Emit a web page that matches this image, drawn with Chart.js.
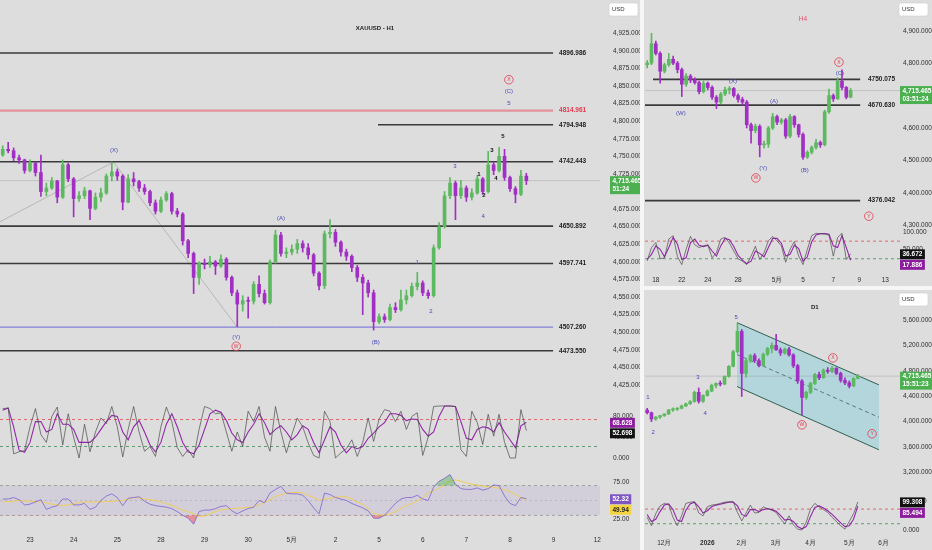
<!DOCTYPE html>
<html lang="en">
<head>
<meta charset="UTF-8">
<title>XAUUSD H1 / H4 / D1</title>
<script src="https://cdn.jsdelivr.net/npm/chart.js@4"></script>
<style>
  body { margin: 0; width: 932px; height: 550px; overflow: hidden; position: relative; background: #dddddd; }
  canvas { position: absolute; }
  .sep { position: absolute; background: #f6f6f6; }
</style>
</head>
<body>
<canvas id="h1Price" width="640" height="392" style="left:0;top:0"></canvas>
<canvas id="h1Stoch" width="640" height="80" style="left:0;top:392px"></canvas>
<canvas id="h1Rsi" width="640" height="78" style="left:0;top:472px"></canvas>
<canvas id="h4Price" width="287" height="228" style="left:645px;top:0"></canvas>
<canvas id="h4Stoch" width="287" height="57" style="left:645px;top:228px"></canvas>
<canvas id="d1Price" width="287" height="198" style="left:645px;top:290px"></canvas>
<canvas id="d1Stoch" width="287" height="62" style="left:645px;top:488px"></canvas>
<div class="sep" style="left:640px;top:0;width:4px;height:550px"></div>
<div class="sep" style="left:644px;top:286px;width:288px;height:4px"></div>

<script>
// ---------- H1 data (one slot = 3 hours) ----------
const h1Open = [4752,4760,4758,4748,4745,4730,4740,4727,4700,4705, 4715,4692,4738,4718,4690,4694,4701,4676,4692,4698,
  4722,4728,4722,4685,4718,4714,4705,4700,4684,4672, 4688,4697,4672,4668,4630,4612,4578,4598,4596,4600,
  4594,4604,4578,4556,4540,4545,4544,4568,4555,4542, 4600,4638,4612,4614,4618,4626,4620,4610,4584,4566,
  4640,4642,4628,4614,4608,4592,4578,4570,4556,4515, 4522,4518,4535,4532,4546,4552,4565,4570,4556,4552,
  4620,4650,4694,4712,4694,4705,4692,4698,4718,4700, 4738,4730,4750,4720,4704,4696,4722];
const h1High = [4765,4770,4762,4752,4746,4745,4742,4752,4712,4720, 4716,4745,4740,4720,4700,4706,4702,4698,4705,4725,
  4742,4732,4724,4724,4727,4716,4710,4702,4688,4692, 4700,4699,4676,4670,4632,4614,4600,4604,4608,4602,
  4610,4606,4580,4560,4552,4550,4572,4580,4560,4603, 4645,4642,4620,4624,4632,4630,4626,4612,4586,4644,
  4660,4646,4630,4618,4610,4595,4582,4574,4560,4526, 4526,4540,4542,4560,4560,4570,4585,4573,4560,4624,
  4656,4700,4720,4715,4716,4708,4704,4723,4720,4757, 4742,4763,4760,4722,4707,4730,4726];
const h1Low = [4750,4755,4744,4740,4726,4728,4722,4693,4694,4703, 4684,4690,4714,4664,4686,4690,4660,4674,4686,4696,
  4715,4716,4674,4684,4708,4700,4696,4680,4668,4670, 4686,4668,4664,4624,4606,4555,4568,4590,4592,4582,
  4592,4574,4552,4508,4530,4520,4540,4550,4540,4540, 4598,4608,4606,4610,4612,4614,4604,4580,4560,4562,
  4634,4622,4608,4602,4586,4572,4525,4550,4503,4512, 4514,4516,4528,4530,4540,4550,4560,4552,4548,4550,
  4618,4648,4690,4660,4690,4686,4688,4696,4696,4698, 4724,4728,4716,4700,4684,4694,4710];
const h1Close = [4760,4758,4748,4745,4730,4740,4727,4700,4705,4715, 4692,4738,4718,4690,4694,4701,4676,4692,4698,4722,
  4728,4722,4685,4718,4714,4705,4700,4684,4672,4688, 4697,4672,4668,4630,4612,4578,4598,4596,4600,4594,
  4604,4578,4556,4540,4545,4544,4568,4555,4542,4600, 4638,4612,4614,4618,4626,4620,4610,4584,4566,4640,
  4642,4628,4614,4608,4592,4578,4570,4556,4515,4522, 4518,4535,4532,4546,4552,4565,4570,4556,4552,4620,
  4650,4694,4712,4694,4705,4692,4698,4718,4700,4738, 4730,4750,4720,4704,4696,4722,4715.465];
const h1StochK = [95,96,8,12,14,60,95,45,30,80, 98,25,85,40,0,65,12,50,77,66, 99,60,2,55,99,50,13,22,3,60,
  98,70,20,3,16,0,55,99,95,85, 87,50,13,50,22,90,70,99,40,13, 99,50,10,45,77,60,29,5,0,90,
  70,0,10,18,35,3,30,77,32,75, 93,90,70,90,55,80,87,5,40,99, 100,100,100,99,16,3,90,68,26,84,
  42,84,30,0,0,93,52.698];
const h1StochD = [92,96,60,15,11,30,70,70,50,55, 85,65,65,55,30,30,30,40,55,70, 82,80,50,35,60,72,50,25,12,30,
  65,85,60,30,12,8,25,55,85,92, 88,72,48,35,30,50,65,85,68,45, 55,62,50,35,45,62,55,30,10,35,
  60,50,25,10,22,18,22,38,48,60, 68,85,85,82,72,75,74,55,42,50, 80,100,100,99,70,38,35,55,60,58,
  50,68,50,35,20,62,68.628];
const h1Rsi = [52,52,54,51,44,45,48,51,38,41, 43,52,52,44,44,46,38,41,50,56, 59,54,43,53,54,55,49,45,43,42,
  41,39,35,30,26,18,35,37,37,39, 42,43,36,32,36,39,41,50,47,60, 65,69,60,59,59,57,50,40,32,60,
  58,54,52,50,46,43,40,36,26,26, 30,38,46,52,54,54,57,52,50,68, 76,80,85,72,66,65,65,67,64,66,
  71,70,56,46,43,54,52.32];
const h1RsiMa = [48,48.5,49,50,49.5,49,48.5,48,46.5,45, 44,43,44,45.5,47.5,48,48,48,48,48.5, 49,49.5,50,52,54,53.5,52,51,50,48,
  46,43.5,40,37,35,32,28.5,29,32,35, 37.5,38,39,39.5,40,40.5,41,44,47.5,51, 55,58,59.5,60.5,61,60,57,54,50.5,51.5,
  53,54.5,55,55,52,48,44.5,39,33,30, 30.5,32,35,39,43,46,49.5,54,60,63, 67,71,76,78,76,74,72,71,69.5,68.5,
  68,66.5,64.5,62,58,54,49.94];
const h1Levels = [4896.986, 4814.961, 4794.948, 4742.443, 4650.892, 4597.741, 4507.260, 4473.550];
const h1LevelFrom = [-0.5, -0.5, 68.8, -0.5, -0.5, -0.5, -0.5, -0.5];
const h1LevelTo = 100.9;
const h1Zigzag = [[-0.5, 4657], [20.3, 4742], [43, 4507]];
const h1Waves = [
  [68.25, 4932, 'XAUUSD - H1', 'title'],
  [20.4, 4759, '(X)', 'wave'], [51.0, 4662, '(A)', 'wave'], [42.8, 4493, '(Y)', 'wave'], [42.8, 4480, 'W', 'circle'],
  [68.4, 4486, '(B)', 'wave'], [76.0, 4599, '1', 'wave'], [78.5, 4529, '2', 'wave'], [82.9, 4736, '3', 'wave'],
  [88.1, 4665, '4', 'wave'], [92.8, 4826, '5', 'wave'], [92.8, 4843, '(C)', 'wave'], [92.8, 4859, 'X', 'circle'],
  [87.3, 4725, '1', 'minor'], [88.2, 4694, '2', 'minor'], [89.7, 4758, '3', 'minor'], [90.4, 4719, '4', 'minor'], [91.7, 4779, '5', 'minor']
];
const h1TickSlots = [5, 13, 21, 29, 37, 45, 53, 61, 69, 77, 85, 93, 101, 109];
const h1TickLabels = ['23', '24', '25', '28', '29', '30', '5月', '2', '5', '6', '7', '8', '9', '12'];
const h1PriceTicks = [4425,4450,4475,4500,4525,4550,4575,4600,4625,4650,4675,4700,4725,4750,4775,4800,4825,4850,4875,4900,4925];

// ---------- H4 data ----------
const h4Open = [4795,4800,4860,4830,4775,4795,4812,4800,4780,4735, 4760,4748,4740,4712,4738,4725,4695,4680,4705,4718,
  4722,4700,4688,4680,4610,4592,4605,4548,4550,4600, 4635,4618,4625,4575,4635,4610,4580,4510,4525,4540,
  4555,4548,4650,4700,4690,4745,4725,4695];
const h4High = [4808,4892,4868,4835,4800,4830,4822,4805,4785,4768, 4765,4755,4745,4745,4742,4730,4700,4710,4726,4728,
  4725,4705,4695,4685,4615,4612,4610,4560,4605,4645, 4640,4630,4630,4642,4638,4612,4585,4530,4545,4565,
  4560,4655,4720,4705,4755,4779,4728,4722];
const h4Low = [4785,4795,4825,4738,4770,4790,4795,4770,4697,4728, 4740,4735,4705,4708,4718,4688,4660,4675,4700,4705,
  4695,4680,4670,4600,4553,4585,4511,4538,4540,4595, 4610,4612,4568,4570,4602,4572,4503,4506,4520,4535,
  4540,4545,4645,4682,4688,4718,4690,4693];
const h4Close = [4800,4860,4830,4775,4795,4812,4800,4780,4735,4760, 4748,4740,4712,4738,4725,4695,4680,4705,4718,4722,
  4700,4688,4680,4610,4592,4605,4548,4550,4600,4635, 4618,4625,4575,4635,4610,4580,4510,4525,4540,4555,
  4548,4650,4700,4690,4745,4725,4695,4715.465];
const h4StochK = [16,55,70,22,25,80,90,28,5,50, 88,63,55,60,63,25,40,80,85,68, 45,22,15,5,30,59,20,40,75,88,
  75,60,12,50,73,30,5,50,90,97, 96,95,92,30,85,97,20,36.672];
const h4StochD = [20,35,60,50,28,55,85,65,20,25, 70,80,62,58,62,45,30,60,82,78, 58,32,18,8,15,45,38,28,55,82,
  82,68,30,35,62,52,15,28,72,92, 96,96,94,60,55,90,55,17.886];
const h4Levels = [4750.075, 4670.630, 4376.042];
const h4LevelFrom = [1.35, -0.5, -0.5];
const h4LevelTo = 49.2;
const h4Waves = [
  [36, 4936, 'H4', 'tf'],
  [19.8, 4745, '(X)', 'wave'], [7.8, 4646, '(W)', 'wave'], [29.3, 4683, '(A)', 'wave'], [26.8, 4477, '(Y)', 'wave'],
  [25.1, 4446, 'W', 'circle'], [36.4, 4470, '(B)', 'wave'], [44.5, 4770, '(C)', 'wave'], [44.3, 4803, 'X', 'circle'],
  [51.2, 4328, 'Y', 'circle']
];
const h4TickSlots = [2, 8, 14, 21, 30, 36, 43, 49, 55];
const h4TickLabels = ['18', '22', '24', '28', '5月', '5', '7', '9', '13'];
const h4PriceTicks = [4300, 4400, 4500, 4600, 4700, 4800, 4900];

// ---------- D1 data ----------
const d1Open = [4180,4140,4040,4070,4095,4120,4185,4195,4210,4245, 4280,4315,4460,4320,4410,4480,4570,4600,4590,4710,
  4870,5100,5420,4760,4960,5040,4960,4880,5060,5150, 5200,5130,5080,5140,5050,4880,4640,4380,4460,4600,
  4740,4690,4810,4790,4840,4760,4650,4610,4560,4680];
const d1High = [4210,4150,4080,4100,4125,4190,4215,4220,4260,4290, 4330,4480,4530,4420,4500,4590,4610,4640,4720,4880,
  5120,5548,5450,4990,5060,5070,4990,5080,5170,5240, 5375,5160,5160,5170,5070,4900,4660,4480,4620,4760,
  4780,4830,4850,4866,4850,4780,4690,4640,4690,4740];
const d1Low = [4120,4000,4020,4050,4080,4110,4160,4175,4200,4235, 4270,4305,4290,4300,4400,4470,4530,4560,4580,4700,
  4860,5080,4395,4700,4930,4930,4860,4870,5040,5080, 5120,5040,5060,5030,4850,4600,4107,4350,4440,4580,
  4660,4680,4760,4770,4740,4620,4580,4530,4550,4670];
const d1Close = [4140,4040,4070,4095,4120,4185,4195,4210,4245,4280, 4315,4460,4320,4410,4480,4570,4600,4590,4710,4870,
  5100,5420,4760,4960,5040,4960,4880,5060,5150,5200, 5130,5080,5140,5050,4880,4640,4380,4460,4600,4740,
  4690,4810,4790,4840,4760,4650,4610,4560,4680,4715.465];
const d1StochK = [45,15,58,85,94,90,45,15,50,94, 98,100,60,50,82,88,90,94,98,100, 100,62,32,60,88,60,62,82,75,70,
  62,40,22,50,18,3,0,28,75,94, 82,72,62,45,30,15,3,30,58,99.308];
const d1StochD = [55,30,38,65,88,92,72,35,30,70, 92,98,82,60,68,82,88,91,95,98, 99,85,55,48,72,72,65,72,76,72,
  66,52,35,38,30,12,4,12,48,80, 85,78,68,55,40,25,12,15,38,85.494];
const d1ChannelX = [20.9, 53.9];
const d1ChannelTop = [5558, 4578];
const d1ChannelMid = [5055, 4067];
const d1ChannelLow = [4552, 3556];
const d1Waves = [
  [39, 5804, 'D1', 'title'],
  [20.7, 5647, '5', 'wave'], [11.8, 4704, '3', 'wave'], [0.2, 4374, '1', 'wave'], [1.4, 3824, '2', 'wave'],
  [13.5, 4122, '4', 'wave'], [43.2, 5003, 'X', 'circle'], [36, 3949, 'W', 'circle'], [52.3, 3808, 'Y', 'circle']
];
const d1TickSlots = [4, 14, 22, 30, 38, 47, 55];
const d1TickLabels = ['12月', '2026', '2月', '3月', '4月', '5月', '6月'];
const d1PriceTicks = [3200, 3600, 4000, 4400, 4800, 5200, 5600];

const stochBands = [74, 22];
const rsiBands = [70, 50, 30];

// ---------- styling helpers ----------
const FONT = '"Liberation Sans", Arial, sans-serif';
const UP = '#5db95f', DOWN = '#a12fc3', WAVE = '#4949b8', RED = '#e5394f';
const K_COL = '#4a4a4a', D_COL = '#9325aa';
Chart.defaults.font.family = FONT;
Chart.defaults.font.size = 6.5;
Chart.defaults.color = '#2e2e2e';

const fmt3 = v => v.toLocaleString('en-US', { minimumFractionDigits: 3, maximumFractionDigits: 3 });

function xScale(min, max, slots, labels, height) {
  const s = { type: 'linear', min, max, offset: false, grid: { display: false, drawTicks: false }, border: { display: false } };
  if (!slots) { s.display = false; return s; }
  s.afterBuildTicks = sc => { sc.ticks = slots.map(v => ({ value: v })); };
  s.afterFit = sc => { sc.height = height; sc.paddingLeft = 0; sc.paddingRight = 0; };
  s.ticks = {
    autoSkip: false, maxRotation: 0, padding: 4,
    callback: v => labels[slots.indexOf(v)],
    font: c => ({ size: 6.5, weight: c.tick && c.tick.label === '2026' ? 'bold' : 'normal' })
  };
  return s;
}

function yScale(min, max, ticks, fmt, width, pad) {
  return {
    type: 'linear', position: 'right', min, max,
    grid: { display: false, drawTicks: false }, border: { display: false },
    afterBuildTicks: sc => { sc.ticks = ticks.map(v => ({ value: v })); },
    // keep the plot area flush with the canvas edges
    afterFit: sc => { sc.width = width; sc.paddingTop = 0; sc.paddingBottom = 0; },
    ticks: { padding: pad, callback: fmt }
  };
}

function options(xs, ys) {
  return {
    responsive: false, animation: false, events: [],
    layout: { padding: 0, autoPadding: false },
    plugins: { legend: { display: false }, tooltip: { enabled: false } },
    scales: { x: xs, y: ys }
  };
}

function candles(open, high, low, close, body) {
  const colors = close.map((c, i) => (c >= open[i] ? UP : DOWN));
  return [
    { type: 'bar', order: 2, grouped: false, barThickness: 1, backgroundColor: colors,
      data: high.map((h, i) => ({ x: i, y: [low[i], h] })) },
    { type: 'bar', order: 1, grouped: false, barThickness: body, minBarLength: 1, backgroundColor: colors,
      data: open.map((o, i) => ({ x: i, y: [o, close[i]] })) }
  ];
}

function hline(x0, x1, v, color, width, dash) {
  return { type: 'line', order: 4, data: [{ x: x0, y: v }, { x: x1, y: v }], borderColor: color,
    borderWidth: width, borderDash: dash || [], pointRadius: 0, fill: false };
}

function series(vals, color, width) {
  return { type: 'line', order: 3, data: vals.map((v, i) => ({ x: i, y: v })), borderColor: color,
    borderWidth: width, pointRadius: 0, tension: 0, fill: false };
}

// wave labels, level captions, axis tags
function marks(cfg) {
  return {
    id: 'marks',
    afterDatasetsDraw(chart) {
      const { ctx } = chart, x = chart.scales.x, y = chart.scales.y;
      ctx.save();
      ctx.textBaseline = 'middle';
      (cfg.levels || []).forEach(l => {
        ctx.textAlign = 'left';
        ctx.font = 'bold 6.5px ' + FONT;
        ctx.fillStyle = l.color;
        ctx.fillText(l.text, x.getPixelForValue(cfg.levelLabelAt), y.getPixelForValue(l.price));
      });
      ctx.textAlign = 'center';
      (cfg.labels || []).forEach(([sx, p, text, kind]) => {
        const px = x.getPixelForValue(sx), py = y.getPixelForValue(p);
        if (kind === 'circle') {
          ctx.strokeStyle = RED; ctx.lineWidth = 0.8;
          ctx.beginPath(); ctx.arc(px, py, 4.3, 0, Math.PI * 2); ctx.stroke();
          ctx.fillStyle = RED; ctx.font = '5px ' + FONT;
        } else if (kind === 'title') {
          ctx.fillStyle = '#1e1e1e'; ctx.font = 'bold 6px ' + FONT;
        } else if (kind === 'tf') {
          ctx.fillStyle = '#e0506e'; ctx.font = '6.5px ' + FONT;
        } else if (kind === 'minor') {
          ctx.fillStyle = '#111'; ctx.font = 'bold 6px ' + FONT;
        } else {
          ctx.fillStyle = WAVE; ctx.font = '6px ' + FONT;
        }
        ctx.fillText(text, px, py);
      });
      ctx.restore();
    },
    afterDraw(chart) {
      const { ctx, chartArea } = chart, y = chart.scales.y;
      const left = chartArea.right + (cfg.tagLeft || 0);
      ctx.save();
      ctx.textBaseline = 'middle';
      ctx.textAlign = 'left';
      if (cfg.unit) {
        ctx.fillStyle = '#ffffff'; ctx.strokeStyle = '#cfcfcf'; ctx.lineWidth = 0.6;
        ctx.beginPath(); ctx.roundRect(left - 1, 3, 29, 13, 2); ctx.fill(); ctx.stroke();
        ctx.fillStyle = '#333'; ctx.font = '6px ' + FONT;
        ctx.fillText(cfg.unit, left + 2, 9.5);
      }
      let lastBottom = -Infinity;
      (cfg.tags || []).map(t => Object.assign({ py: y.getPixelForValue(t.value) }, t))
        .sort((a, b) => a.py - b.py)
        .forEach(t => {
          const h = t.rows.length * 8 + 2;
          const top = Math.max(t.py - 4.5, lastBottom + 0.5);
          ctx.font = 'bold 6.5px ' + FONT;
          const w = Math.max(...t.rows.map(r => ctx.measureText(r).width)) + 5;
          ctx.fillStyle = t.bg;
          ctx.fillRect(left, top, w, h);
          ctx.fillStyle = t.fg;
          t.rows.forEach((r, i) => ctx.fillText(r, left + 2.5, top + 5 + i * 8));
          lastBottom = top + h;
        });
      ctx.restore();
    }
  };
}

function levelColor(p) {
  if (p === 4814.961) return 'rgba(232,95,110,0.6)';
  if (p === 4507.260) return '#6d6ad6';
  return '#3a3a3a';
}
function levelText(p) {
  return p === 4814.961 ? '#e53950' : '#222';
}

const GREEN_TAG = '#4caf50';
const last = h1Close[h1Close.length - 1];

// ---------- H1 price ----------
new Chart(document.getElementById('h1Price'), {
  type: 'bar',
  data: { datasets: [
    ...h1Levels.map((p, i) => hline(h1LevelFrom[i], h1LevelTo, p, levelColor(p), p === 4814.961 ? 2.4 : (p === 4507.260 ? 1 : 1.6))),
    { type: 'line', order: 5, data: h1Zigzag.map(([x, y]) => ({ x, y })), borderColor: 'rgba(120,120,120,0.55)', borderWidth: 0.7, pointRadius: 0, fill: false },
    hline(-0.5, 109.5, last, 'rgba(140,140,140,0.4)', 0.8),
    ...candles(h1Open, h1High, h1Low, h1Close, 3)
  ] },
  options: options(xScale(-0.5, 109.5), yScale(4415, 4972.3, h1PriceTicks, fmt3, 40, 13)),
  plugins: [marks({
    labels: h1Waves, levelLabelAt: 102,
    levels: h1Levels.map(p => ({ price: p, text: p.toFixed(3), color: levelText(p) })),
    unit: 'USD', tagLeft: 10,
    tags: [{ value: last, rows: [fmt3(last), '51:24'], bg: GREEN_TAG, fg: '#fff' }]
  })]
});

// ---------- H1 stochastic RSI ----------
new Chart(document.getElementById('h1Stoch'), {
  type: 'line',
  data: { datasets: [
    hline(-0.5, 109.5, stochBands[0], '#e8494f', 0.8, [3, 3]),
    hline(-0.5, 109.5, stochBands[1], '#3f8f55', 0.8, [3, 3]),
    series(h1StochK, K_COL, 0.7),
    series(h1StochD, D_COL, 1.1)
  ] },
  options: options(xScale(-0.5, 109.5), yScale(-26.9, 126.9, [0, 40, 80], fmt3, 40, 13)),
  plugins: [marks({ tagLeft: 10, tags: [
    { value: 68.628, rows: ['68.628'], bg: '#8c1d9e', fg: '#fff' },
    { value: 52.698, rows: ['52.698'], bg: '#111', fg: '#fff' }
  ] })]
});

// ---------- H1 RSI ----------
new Chart(document.getElementById('h1Rsi'), {
  type: 'line',
  data: { datasets: [
    Object.assign(hline(-0.5, 109.5, rsiBands[0], '#8c8c8c', 0.7, [3, 3]), { fill: '+1', backgroundColor: 'rgba(126,87,194,0.10)' }),
    hline(-0.5, 109.5, rsiBands[2], '#8c8c8c', 0.7, [3, 3]),
    hline(-0.5, 109.5, rsiBands[1], 'rgba(140,140,140,0.6)', 0.6, [2, 3]),
    Object.assign(series(h1Rsi, '#7b5fd0', 0.8), { fill: { target: { value: 70 }, above: 'rgba(76,175,80,0.45)', below: 'rgba(0,0,0,0)' } }),
    Object.assign(series(h1Rsi, 'rgba(0,0,0,0)', 0), { fill: { target: { value: 30 }, above: 'rgba(0,0,0,0)', below: 'rgba(242,54,69,0.45)' } }),
    series(h1RsiMa, '#f0cc58', 1)
  ] },
  options: options(xScale(-0.5, 109.5, h1TickSlots, h1TickLabels, 18),
    yScale(7.4, 88.5, [25, 75], v => v.toFixed(2), 40, 13)),
  plugins: [marks({ tagLeft: 10, tags: [
    { value: 52.32, rows: ['52.32'], bg: '#7e57c2', fg: '#fff' },
    { value: 49.94, rows: ['49.94'], bg: '#f5d442', fg: '#222' }
  ] })]
});

// ---------- H4 price ----------
new Chart(document.getElementById('h4Price'), {
  type: 'bar',
  data: { datasets: [
    ...h4Levels.map((p, i) => hline(h4LevelFrom[i], h4LevelTo, p, '#3a3a3a', 1.6)),
    hline(-0.5, 58.4, last, 'rgba(140,140,140,0.4)', 0.8),
    ...candles(h4Open, h4High, h4Low, h4Close, 3)
  ] },
  options: options(xScale(-0.5, 58.4), yScale(4291.6, 4994.7, h4PriceTicks, fmt3, 32, 3)),
  plugins: [marks({
    labels: h4Waves, levelLabelAt: 51,
    levels: h4Levels.map(p => ({ price: p, text: p.toFixed(3), color: '#222' })),
    unit: 'USD', tagLeft: 0,
    tags: [{ value: last, rows: [fmt3(last), '03:51:24'], bg: GREEN_TAG, fg: '#fff' }]
  })]
});

// ---------- H4 stochastic ----------
new Chart(document.getElementById('h4Stoch'), {
  type: 'line',
  data: { datasets: [
    hline(-0.5, 58.4, stochBands[0], '#e8494f', 0.8, [3, 3]),
    hline(-0.5, 58.4, stochBands[1], '#3f8f55', 0.8, [3, 3]),
    series(h4StochK, K_COL, 0.7),
    series(h4StochD, D_COL, 1.1)
  ] },
  options: options(xScale(-0.5, 58.4, h4TickSlots, h4TickLabels, 13),
    yScale(-16.8, 112.6, [50, 100], fmt3, 32, 3)),
  plugins: [marks({ tagLeft: 0, tags: [
    { value: 36.672, rows: ['36.672'], bg: '#111', fg: '#fff' },
    { value: 17.886, rows: ['17.886'], bg: '#8c1d9e', fg: '#fff' }
  ] })]
});

// ---------- D1 price ----------
new Chart(document.getElementById('d1Price'), {
  type: 'bar',
  data: { datasets: [
    { type: 'line', order: 6, data: d1ChannelX.map((x, i) => ({ x, y: d1ChannelTop[i] })), borderColor: '#2f5f4f', borderWidth: 1,
      pointRadius: 0, fill: 2, backgroundColor: 'rgba(118,205,216,0.42)' },
    { type: 'line', order: 5, data: d1ChannelX.map((x, i) => ({ x, y: d1ChannelMid[i] })), borderColor: '#3f5f5a', borderWidth: 0.8,
      borderDash: [4, 3], pointRadius: 0, fill: false },
    { type: 'line', order: 5, data: d1ChannelX.map((x, i) => ({ x, y: d1ChannelLow[i] })), borderColor: '#2f5f4f', borderWidth: 1,
      pointRadius: 0, fill: false },
    hline(-0.5, 58.8, last, 'rgba(140,140,140,0.4)', 0.8),
    ...candles(d1Open, d1High, d1Low, d1Close, 3)
  ] },
  options: options(xScale(-0.5, 58.8), yScale(2954, 6072, d1PriceTicks, fmt3, 32, 3)),
  plugins: [marks({
    labels: d1Waves, unit: 'USD', tagLeft: 0,
    tags: [{ value: last, rows: [fmt3(last), '15:51:23'], bg: GREEN_TAG, fg: '#fff' }]
  })]
});

// ---------- D1 stochastic ----------
new Chart(document.getElementById('d1Stoch'), {
  type: 'line',
  data: { datasets: [
    hline(-0.5, 58.8, stochBands[0], '#e8494f', 0.8, [3, 3]),
    hline(-0.5, 58.8, stochBands[1], '#3f8f55', 0.8, [3, 3]),
    series(d1StochK, K_COL, 0.7),
    series(d1StochD, D_COL, 1.1)
  ] },
  options: options(xScale(-0.5, 58.8, d1TickSlots, d1TickLabels, 15),
    yScale(-17.7, 148.4, [0, 100], fmt3, 32, 3)),
  plugins: [marks({ tagLeft: 0, tags: [
    { value: 99.308, rows: ['99.308'], bg: '#111', fg: '#fff' },
    { value: 85.494, rows: ['85.494'], bg: '#8c1d9e', fg: '#fff' }
  ] })]
});
</script>
</body>
</html>
